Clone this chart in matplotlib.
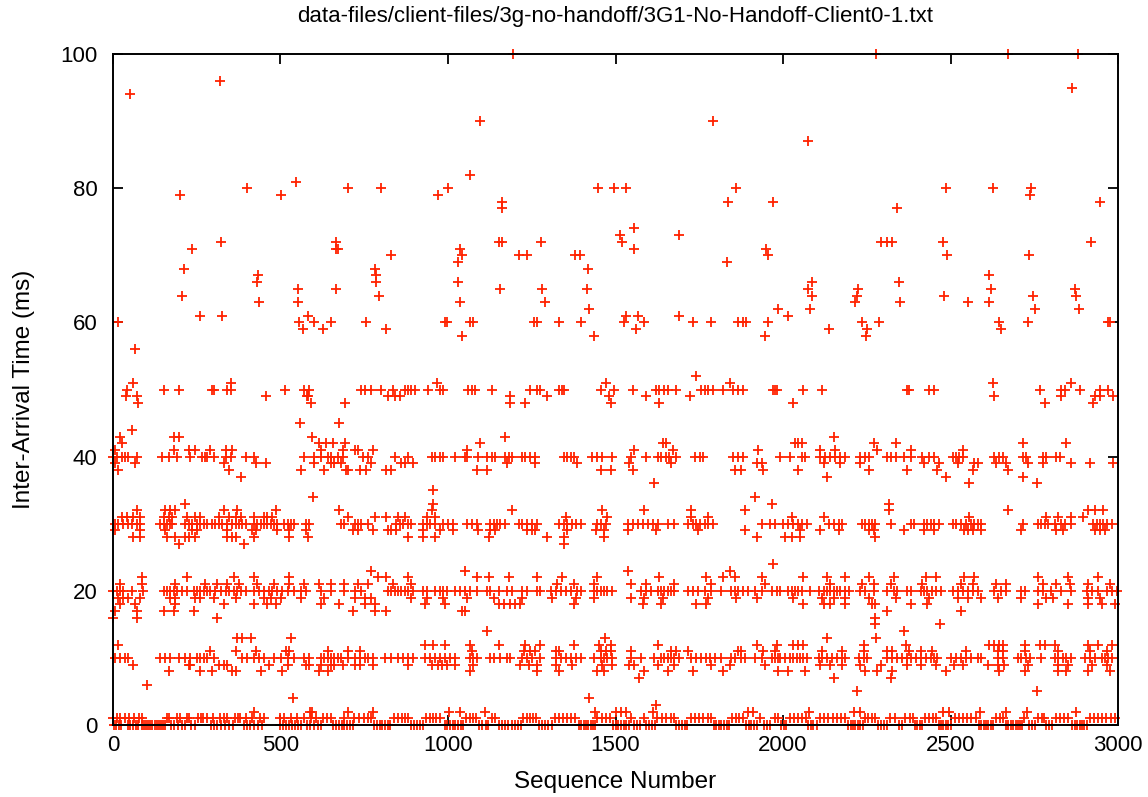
import numpy as np
import matplotlib.pyplot as plt

plt.rcParams['font.family'] = ['Liberation Sans', 'DejaVu Sans']

title = "data-files/client-files/3g-no-handoff/3G1-No-Handoff-Client0-1.txt"

# sequence numbers sitting on the main rows (value in ms is the row)
row0 = [2, 10, 18, 25, 45, 52, 60, 68, 75, 88, 94, 100, 106, 112, 118, 124, 130, 136, 142, 148, 155,
        174, 183, 195, 206, 214, 234, 244, 294, 303, 312, 322, 333, 345, 357, 390, 399, 408, 420, 432,
        444, 500, 508, 516, 524, 533, 542, 552, 561, 578, 588, 600, 612, 620, 656, 665, 674, 683, 690,
        698, 707, 715, 780, 788, 796, 804, 812, 820, 828, 890, 899, 908, 917, 925, 990, 998, 1006, 1014,
        1022, 1030, 1038, 1046, 1094, 1103, 1112, 1120, 1152, 1160, 1170, 1180, 1190, 1200, 1210, 1219,
        1272, 1280, 1290, 1300, 1309, 1391, 1398, 1405, 1412, 1419, 1426, 1433, 1440, 1493, 1500, 1508,
        1516, 1524, 1532, 1539, 1556, 1564, 1574, 1592, 1600, 1608, 1617, 1682, 1690, 1698, 1706, 1714,
        1793, 1800, 1808, 1816, 1824, 1832, 1840, 1889, 1897, 1905, 1913, 1921, 1943, 1952, 1961, 1994,
        2002, 2010, 2075, 2083, 2091, 2100, 2195, 2202, 2209, 2216, 2223, 2230, 2238, 2285, 2293, 2301,
        2310, 2345, 2355, 2393, 2401, 2409, 2416, 2465, 2472, 2479, 2486, 2493, 2500, 2585, 2592, 2599,
        2606, 2613, 2620, 2627, 2666, 2673, 2680, 2687, 2694, 2701, 2708, 2714, 2735, 2743, 2752, 2786,
        2794, 2802, 2864, 2871, 2878, 2885, 2892, 2899, 2906]
row1 = [0, 12, 22, 35, 48, 62, 78, 86, 160, 168, 190, 200, 222, 228, 255, 262, 270, 280, 300, 318, 330,
        340, 364, 372, 380, 398, 415, 440, 450, 500, 512, 530, 548, 570, 590, 606, 628, 640, 650, 690,
        720, 735, 748, 760, 770, 840, 852, 862, 872, 882, 935, 945, 955, 965, 975, 1055, 1065, 1075,
        1085, 1130, 1140, 1225, 1235, 1245, 1255, 1262, 1318, 1330, 1342, 1355, 1367, 1380, 1445, 1460,
        1472, 1483, 1545, 1585, 1625, 1640, 1652, 1665, 1675, 1725, 1738, 1750, 1762, 1775, 1785, 1848,
        1860, 1870, 1880, 1930, 1975, 1985, 2020, 2032, 2045, 2058, 2068, 2110, 2122, 2135, 2148, 2160,
        2172, 2185, 2245, 2255, 2265, 2275, 2320, 2335, 2365, 2378, 2388, 2425, 2437, 2448, 2458, 2512,
        2525, 2538, 2550, 2562, 2575, 2635, 2648, 2658, 2720, 2760, 2772, 2780, 2815, 2828, 2840, 2852,
        2915, 2928, 2940, 2952, 2965, 2978, 2990]
row10 = [6, 21, 36, 46, 141, 156, 171, 196, 216, 231, 251, 261, 271, 281, 301, 386, 401, 421, 436, 451,
         481, 501, 521, 541, 571, 586, 621, 631, 641, 651, 661, 671, 681, 701, 721, 736, 751, 761, 776,
         811, 831, 851, 866, 881, 896, 931, 946, 961, 976, 991, 1006, 1021, 1066, 1076, 1086, 1126, 1136,
         1156, 1176, 1186, 1221, 1236, 1251, 1276, 1321, 1336, 1351, 1366, 1381, 1396, 1436, 1456, 1466,
         1476, 1491, 1546, 1576, 1616, 1636, 1646, 1656, 1666, 1676, 1691, 1726, 1741, 1756, 1771, 1781,
         1796, 1816, 1846, 1856, 1876, 1886, 1916, 1936, 1966, 1976, 1986, 1991, 2006, 2021, 2031, 2041,
         2051, 2061, 2071, 2106, 2116, 2131, 2146, 2161, 2176, 2186, 2226, 2241, 2251, 2311, 2326, 2341,
         2356, 2371, 2381, 2396, 2411, 2426, 2441, 2451, 2461, 2501, 2516, 2531, 2546, 2561, 2581, 2591,
         2641, 2656, 2701, 2711, 2726, 2736, 2771, 2811, 2821, 2836, 2846, 2861, 2901, 2916, 2931, 2951,
         2961, 2971, 2981]
row20 = [1, 11, 21, 31, 56, 91, 151, 161, 171, 181, 191, 206, 221, 241, 251, 261, 271, 281, 291, 306,
         321, 336, 346, 361, 371, 381, 396, 421, 436, 451, 466, 476, 491, 506, 521, 541, 561, 576, 621,
         651, 691, 721, 741, 821, 831, 841, 851, 861, 871, 881, 896, 926, 936, 961, 976, 986, 996, 1021,
         1036, 1051, 1066, 1086, 1116, 1126, 1151, 1176, 1191, 1221, 1236, 1266, 1276, 1306, 1321, 1336,
         1351, 1366, 1386, 1396, 1436, 1446, 1456, 1466, 1476, 1491, 1576, 1591, 1606, 1626, 1636, 1646,
         1656, 1666, 1676, 1716, 1731, 1746, 1766, 1786, 1816, 1846, 1856, 1866, 1881, 1896, 1916, 1936,
         1966, 1981, 1991, 2016, 2026, 2036, 2046, 2056, 2081, 2106, 2121, 2131, 2141, 2151, 2161, 2171,
         2186, 2196, 2231, 2246, 2271, 2311, 2331, 2341, 2371, 2381, 2411, 2421, 2431, 2446, 2456, 2471,
         2506, 2521, 2536, 2551, 2566, 2581, 2631, 2651, 2666, 2711, 2721, 2761, 2776, 2801, 2831, 2861,
         2906, 2921, 2941, 2966, 2981, 2996]
row30 = [6, 16, 31, 46, 56, 71, 81, 141, 151, 161, 171, 176, 216, 226, 236, 251, 261, 271, 281, 296,
         306, 316, 326, 341, 356, 366, 376, 386, 396, 421, 431, 441, 451, 461, 471, 481, 491, 511, 521,
         531, 541, 576, 586, 681, 691, 721, 731, 741, 761, 846, 856, 866, 881, 891, 926, 936, 946, 961,
         986, 1001, 1016, 1056, 1071, 1086, 1126, 1136, 1146, 1156, 1171, 1211, 1221, 1236, 1251, 1266,
         1331, 1346, 1356, 1371, 1381, 1396, 1446, 1456, 1471, 1536, 1551, 1566, 1581, 1596, 1611, 1626,
         1656, 1676, 1716, 1731, 1741, 1751, 1766, 1776, 1791, 1936, 1961, 1976, 2001, 2016, 2031, 2046,
         2056, 2071, 2136, 2151, 2166, 2176, 2236, 2246, 2256, 2266, 2276, 2321, 2381, 2391, 2421, 2431,
         2441, 2451, 2466, 2506, 2516, 2531, 2546, 2561, 2571, 2581, 2591, 2716, 2761, 2771, 2781, 2791,
         2811, 2831, 2841, 2861, 2926, 2936, 2946, 2956, 2966, 2981]
row40 = [1, 11, 26, 36, 46, 71, 146, 166, 191, 231, 266, 276, 281, 301, 336, 351, 396, 421, 571, 601,
         621, 641, 651, 671, 686, 746, 761, 841, 881, 951, 961, 976, 986, 1021, 1051, 1056, 1091, 1116,
         1131, 1141, 1171, 1181, 1191, 1221, 1231, 1246, 1261, 1346, 1356, 1366, 1376, 1431, 1446, 1461,
         1491, 1546, 1591, 1626, 1636, 1651, 1661, 1681, 1736, 1751, 1761, 1851, 1866, 1881, 1991, 2021,
         2056, 2066, 2111, 2126, 2141, 2156, 2171, 2186, 2231, 2246, 2256, 2311, 2321, 2336, 2361, 2381,
         2416, 2436, 2451, 2506, 2516, 2526, 2536, 2631, 2646, 2656, 2716, 2726, 2776, 2786, 2816, 2826]
row50 = [41, 151, 196, 296, 301, 341, 351, 514, 571, 586, 741, 751, 771, 801, 836, 871, 881, 891, 901,
         941, 976, 986, 1061, 1071, 1081, 1131, 1246, 1266, 1276, 1331, 1341, 1346, 1456, 1496, 1551,
         1621, 1631, 1646, 1656, 1681, 1756, 1766, 1776, 1791, 1821, 1851, 1866, 1881, 1971, 1976, 1981,
         2061, 2116, 2371, 2376, 2436, 2451, 2766, 2831, 2841, 2886, 2946, 2971]

# points off the main rows, value (ms) -> sequence numbers
near_floor = {2: [420, 587, 594, 702, 777, 1002, 1035, 1110, 1440, 1500, 1515, 1530, 1611, 1896, 1911,
                  2079, 2211, 2229, 2478, 2496, 2589, 2667, 2727, 2874],
              3: [1620], 4: [537, 1422], 5: [2220, 2758], 6: [101], 7: [1571, 2151, 2321]}
band10 = {8: [166, 261, 296, 356, 366, 441, 506, 616, 641, 1066, 1266, 1331, 1446, 1466, 1586, 1656,
              1731, 1821, 1986, 2016, 2066, 2246, 2281, 2326, 2486, 2646, 2721, 2821, 2846, 2911, 2976],
          9: [61, 226, 231, 316, 331, 341, 466, 521, 576, 586, 621, 651, 661, 686, 721, 736, 776, 881,
              951, 971, 981, 996, 1021, 1076, 1216, 1241, 1266, 1321, 1371, 1461, 1491, 1541, 1556, 1626,
              1676, 1786, 1841, 1946, 2111, 2141, 2176, 2231, 2291, 2371, 2411, 2456, 2511, 2536, 2611,
              2641, 2661, 2731, 2821, 2851, 2921, 2966],
          11: [291, 366, 426, 516, 526, 641, 701, 736, 1071, 1226, 1246, 1261, 1321, 1331, 1456, 1471,
               1486, 1546, 1666, 1681, 1716, 1866, 1876, 1941, 1976, 2116, 2176, 2241, 2311, 2326, 2376,
               2411, 2446, 2546, 2641, 2656, 2721, 2821, 2916, 2966],
          12: [16, 931, 956, 991, 1066, 1151, 1231, 1276, 1376, 1451, 1486, 1626, 1921, 1981, 2031, 2046,
               2061, 2241, 2366, 2616, 2631, 2646, 2656, 2721, 2766, 2781, 2811, 2911, 2941, 2981],
          13: [371, 386, 411, 531, 1469, 2131, 2279], 14: [1116, 2361], 15: [2274, 2468]}
band20 = {16: [1, 71, 311, 2276],
          17: [6, 71, 151, 181, 241, 716, 781, 816, 1041, 1051, 2311, 2531],
          18: [21, 66, 186, 331, 421, 461, 486, 621, 676, 751, 781, 931, 991, 1151, 1166, 1186, 1201,
               1216, 1376, 1581, 1636, 1741, 1771, 2061, 2121, 2141, 2186, 2266, 2276, 2381, 2431, 2761,
               2851, 2911, 2951, 2991],
          19: [16, 31, 46, 81, 171, 186, 246, 261, 301, 366, 451, 471, 501, 561, 631, 721, 751, 771, 891,
               936, 986, 1056, 1136, 1221, 1311, 1381, 1436, 1546, 1586, 1641, 1776, 1861, 1921, 2031,
               2116, 2151, 2186, 2256, 2336, 2436, 2521, 2551, 2591, 2641, 2711, 2786, 2806, 2911, 2946],
          21: [21, 86, 186, 276, 311, 341, 376, 431, 481, 526, 571, 616, 651, 691, 731, 761, 836, 891,
               1326, 1376, 1436, 1546, 1591, 1676, 1786, 1946, 2141, 2236, 2271, 2321, 2416, 2531, 2566,
               2636, 2666, 2776, 2816, 2856, 2911, 2976],
          22: [86, 221, 361, 421, 526, 791, 816, 881, 1086, 1121, 1181, 1266, 1341, 1446, 1631, 1771,
               1821, 1856, 1936, 2061, 2131, 2186, 2256, 2331, 2426, 2456, 2541, 2571, 2761, 2851, 2941],
          23: [771, 1051, 1536, 1841], 24: [1969]}
band30 = {27: [196, 391, 1346],
          28: [61, 81, 161, 186, 216, 226, 246, 341, 356, 366, 421, 526, 581, 881, 926, 961, 1121, 1296,
               1346, 1466, 1921, 2006, 2026, 2051, 2276],
          29: [6, 81, 156, 236, 251, 341, 416, 426, 491, 526, 576, 716, 731, 776, 821, 831, 846, 926, 976,
               1016, 1091, 1126, 1141, 1236, 1251, 1261, 1356, 1441, 1466, 1536, 1621, 1746, 1886, 2051,
               2111, 2166, 2256, 2271, 2361, 2421, 2451, 2541, 2551, 2566, 2591, 2711, 2816, 2836, 2931,
               2946, 2961],
          31: [26, 41, 61, 81, 151, 166, 176, 221, 246, 261, 316, 346, 366, 381, 421, 451, 461, 476, 701,
               781, 816, 851, 871, 936, 961, 1351, 1476, 1726, 1776, 2026, 2121, 2556, 2786, 2821, 2861,
               2896],
          32: [71, 156, 171, 186, 331, 371, 486, 676, 951, 1191, 1461, 1586, 1726, 1886, 2316, 2671, 2911,
               2931, 2956],
          33: [216, 956, 1966, 2316], 34: [598, 1916], 35: [956]}
band40 = {36: [1616, 2556, 2758], 37: [381, 2131, 2486, 2716],
          38: [16, 346, 561, 631, 696, 701, 736, 756, 816, 831, 1086, 1116, 1456, 1486, 1551, 1856, 1876,
               1941, 2046, 2256, 2371, 2461, 2566, 2671],
          39: [6, 66, 331, 426, 456, 601, 651, 661, 681, 771, 861, 871, 896, 1176, 1261, 1386, 1541, 1666,
               1921, 1936, 2121, 2171, 2231, 2421, 2466, 2521, 2571, 2581, 2636, 2666, 2731, 2776, 2861,
               2916, 2986],
          41: [6, 181, 226, 246, 291, 336, 356, 621, 686, 721, 731, 776, 1056, 1556, 1671, 1926, 2111,
               2156, 2281, 2381, 2536],
          42: [26, 616, 636, 656, 694, 1096, 1641, 1651, 2036, 2046, 2056, 2271, 2336, 2716, 2846],
          43: [21, 181, 196, 593, 1171, 2151], 44: [56], 45: [558, 674]}
band50 = {48: [76, 591, 693, 1186, 1231, 1486, 1631, 2031, 2781, 2926],
          49: [39, 73, 458, 578, 581, 821, 841, 856, 1186, 1296, 1481, 1591, 1721, 2631, 2831, 2931, 2946,
               2986],
          51: [61, 351, 966, 1471, 1841, 2626, 2861], 52: [1741], 56: [66]}

# the sparse high values
high_seq = [16, 51, 201, 206, 211, 236, 261, 318, 321, 326, 401, 431, 433, 436, 501, 546, 551, 551, 556,
            566, 581, 601, 626, 651, 666, 666, 671, 666, 701, 756, 781, 786, 786, 793, 801, 816, 831, 971,
            991, 996, 1001, 1031, 1036, 1041, 1066, 1076, 1156, 1256, 1266, 1281, 1291, 1331, 1396, 1416,
            1421, 1436, 1526, 1531, 1561, 1566, 1586, 1691, 1731, 1786, 1866, 1881, 1891, 1946, 1956, 1986,
            2016, 2076, 2081, 2086, 2086, 2136, 2216, 2221, 2223, 2236, 2249, 2251, 2286, 2346, 2348, 2481,
            2551, 2616, 2621, 2646, 2651, 2731, 2746, 2751, 2871, 2876, 2884, 2971, 2976,
            1031, 1036, 1041, 1066, 1095, 1152, 1161, 1161, 1161, 1194, 1212, 1236, 1278, 1379, 1394, 1418,
            1448, 1496, 1530, 1514, 1520, 1555, 1555, 1689, 1791, 1836, 1833, 1860, 1950, 1955, 1970, 2075,
            2278, 2292, 2310, 2325, 2340, 2478, 2487, 2490, 2627, 2615, 2672, 2737, 2740, 2733, 2862, 2880,
            2919, 2946]
high_val = [60, 94, 79, 64, 68, 71, 61, 96, 72, 61, 80, 66, 67, 63, 79, 81, 65, 63, 60,
            59, 61, 60, 59, 60, 72, 71, 71, 65, 80, 60, 68, 67, 66, 64, 80, 59, 70, 79,
            60, 60, 80, 66, 63, 58, 60, 60, 65, 60, 60, 65, 63, 60, 60, 65,
            62, 58, 60, 61, 59, 61, 60, 61, 60, 60, 60, 60, 60, 58, 60, 62,
            61, 65, 62, 66, 64, 59, 63, 64, 65, 60, 58, 59, 60, 66, 63, 64,
            63, 63, 65, 60, 59, 60, 64, 62, 65, 64, 62, 60, 60,
            69, 71, 70, 82, 90, 72, 72, 78, 77, 100, 70, 70, 72, 70, 70, 68,
            80, 80, 80, 73, 72, 74, 71, 73, 90, 78, 69, 80, 71, 70, 78, 87,
            100, 72, 72, 72, 77, 72, 80, 70, 80, 67, 100, 79, 80, 70, 95, 100,
            72, 78]

xs, ys = [], []
for val, row in [(0, row0), (1, row1), (10, row10), (20, row20), (30, row30), (40, row40), (50, row50)]:
    xs += row
    ys += [val] * len(row)
for band in [near_floor, band10, band20, band30, band40, band50]:
    for val, seqs in band.items():
        xs += seqs
        ys += [val] * len(seqs)
xs += high_seq
ys += high_val

fig = plt.figure(figsize=(11.48, 7.97), dpi=100)
ax = fig.add_axes([0.0984, 0.0903, 0.8755, 0.8419])
ax.plot(xs, ys, '+', color='#ff2200', ms=7.5, mew=1.3, clip_on=False)

ax.set_xlim(0, 3000)
ax.set_ylim(0, 100)
ax.set_xticks(np.arange(0, 3001, 500))
ax.set_yticks(np.arange(0, 101, 20))
ax.tick_params(direction='in', length=7, width=1.3, labelsize=16, top=True, right=True)
ax.tick_params(axis='x', pad=7)
ax.tick_params(axis='y', pad=11)
for s in ax.spines.values():
    s.set_linewidth(1.4)

ax.set_xlabel('Sequence Number', fontsize=17.5, labelpad=11)
ax.set_ylabel('Inter-Arrival Time (ms)', fontsize=17.5, labelpad=18)
# gnuplot centres the title over the plot area
ax.set_title(title, fontsize=16, pad=23)

fig.savefig('out.png', dpi=100)
